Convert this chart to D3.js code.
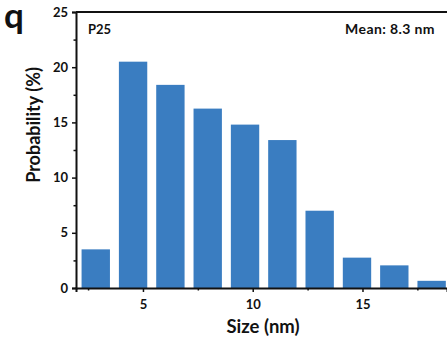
<!DOCTYPE html>
<html lang="en">
<head>
    <meta charset="UTF-8">
    <title>P25 size distribution</title>
    <script src="https://cdn.jsdelivr.net/npm/d3@7/dist/d3.min.js"></script>
    <style>
        body { margin: 0; background: #fff; }
        text { font-family: Lato, "Open Sans", sans-serif; font-weight: bold; fill: #111; }
    </style>
</head>
<body>
<div id="output"></div>

<script>

// bin centres (nm) and probability (%)
var sizes = [2.85, 4.55, 6.25, 7.95, 9.65, 11.35, 13.05, 14.75, 16.45, 18.15];
var probability = [3.5, 20.5, 18.4, 16.25, 14.8, 13.4, 7.0, 2.75, 2.05, 0.65];
var binWidth = 1.7;
var xTicks = [5, 10, 15];
var xMinor = [2.5, 7.5, 12.5, 17.5];
var yTicks = [0, 5, 10, 15, 20, 25];
var yMinor = [2.5, 7.5, 12.5, 17.5, 22.5];

var w = 447;
var h = 345;
// plot box (window.top is taken, so prefixed names)
var plotLeft = 76, plotTop = 12, plotBottom = 288, plotRight = 447;

var svg = d3.select("#output")
    .append("svg")
    .attr("width", w)
    .attr("height", h);

var x = d3.scaleLinear().domain([1.95, 18.85]).range([plotLeft, plotRight]);
var y = d3.scaleLinear().domain([0, 25]).range([plotBottom, plotTop]);

svg.append("defs").append("clipPath").attr("id", "plot")
    .append("rect")
    .attr("x", plotLeft).attr("y", plotTop)
    .attr("width", plotRight - plotLeft).attr("height", plotBottom - plotTop);

// bars
svg.append("g")
    .attr("clip-path", "url(#plot)")
    .selectAll("rect")
    .data(sizes)
    .enter()
    .append("rect")
    .attr("x", function (d) { return x(d - binWidth * 0.38); })
    .attr("width", function (d) { return x(d + binWidth * 0.38) - x(d - binWidth * 0.38); })
    .attr("y", function (d, i) { return y(probability[i]); })
    .attr("height", function (d, i) { return plotBottom - y(probability[i]); })
    .attr("fill", "#3a7dc1");

// x axis
svg.append("g")
    .attr("transform", "translate(0," + plotBottom + ")")
    .call(d3.axisBottom(x).tickValues(xTicks).tickSize(4).tickPadding(8));
svg.append("g")
    .attr("transform", "translate(0," + plotBottom + ")")
    .call(d3.axisBottom(x).tickValues(xMinor).tickSize(2.5).tickFormat(""))
    .select(".domain").remove();

// y axis
svg.append("g")
    .attr("transform", "translate(" + plotLeft + ",0)")
    .call(d3.axisLeft(y).tickValues(yTicks).tickSize(4).tickPadding(4));
svg.append("g")
    .attr("transform", "translate(" + plotLeft + ",0)")
    .call(d3.axisLeft(y).tickValues(yMinor).tickSize(2.5).tickFormat(""))
    .select(".domain").remove();

svg.selectAll(".domain").attr("stroke-width", 2).attr("stroke", "#111");
svg.selectAll(".tick line").attr("stroke-width", 1.5).attr("stroke", "#111");
svg.selectAll(".tick text").style("font-size", "13px").style("font-family", "Lato, sans-serif")
    .style("font-weight", "bold").attr("fill", "#111");

// top frame line
svg.append("line")
    .attr("x1", plotLeft).attr("x2", plotRight)
    .attr("y1", plotTop).attr("y2", plotTop)
    .attr("stroke", "#111").attr("stroke-width", 2);

// labels
svg.append("text")
    .attr("x", 263).attr("y", 333)
    .attr("text-anchor", "middle")
    .style("font-size", "18.5px")
    .text("Size (nm)");

svg.append("text")
    .attr("transform", "translate(40,125) rotate(-90)")
    .attr("text-anchor", "middle")
    .style("font-size", "18px")
    .text("Probability (%)");

svg.append("text")
    .attr("x", 4).attr("y", 28)
    .style("font-size", "35px")
    .text("q");

svg.append("text")
    .attr("x", 88).attr("y", 34)
    .style("font-size", "13px")
    .text("P25");

svg.append("text")
    .attr("x", 435).attr("y", 34)
    .attr("text-anchor", "end")
    .style("font-size", "14px")
    .style("letter-spacing", "0.4px")
    .text("Mean: 8.3 nm");

</script>
</body>
</html>
